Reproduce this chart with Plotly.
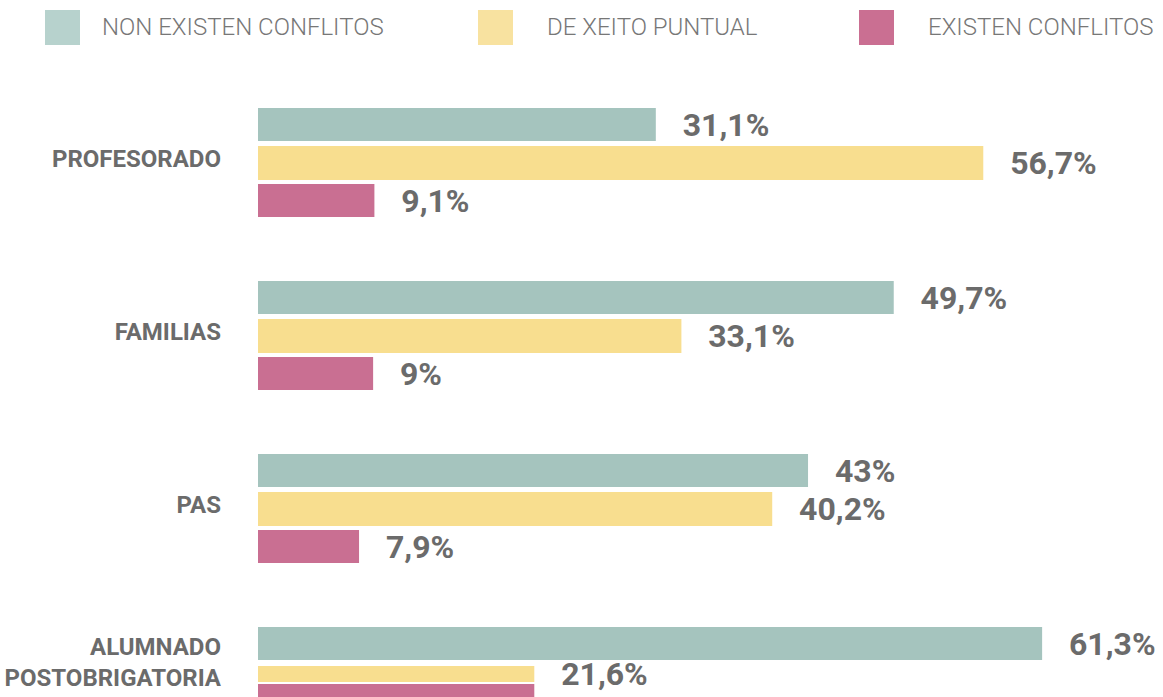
import plotly.graph_objects as go

categories = ["PROFESORADO", "FAMILIAS", "PAS", "ALUMNADO<br>POSTOBRIGATORIA<br> "]
series_names = ["NON EXISTEN CONFLITOS", "DE XEITO PUNTUAL", "EXISTEN CONFLITOS"]
non_existen = [31.1, 49.7, 43.0, 61.3]
de_xeito = [56.7, 33.1, 40.2, 21.6]
existen = [9.1, 9.0, 7.9, 21.6]

bar_colors = ["#a5c4be", "#f8de8f", "#c96f92"]
legend_colors = ["#b7d2cd", "#f8e2a0", "#ca6f92"]
label_color = "#6b6b6b"

W, H = 1163, 697
ML, MR, MT, MB = 258, 0, 80, 0
PW, PH = W - ML - MR, H - MT - MB


def fmt(v):
    return "\u00a0\u00a0\u00a0" + f"{v:g}".replace(".", ",") + "%"


# bar geometry (category units) : offset / width per trace
geo = [
    dict(offset=[-0.2919] * 4, width=[0.191] * 4),
    dict(offset=[-0.0723, -0.0723, -0.0723, -0.0665], width=[0.1965, 0.1965, 0.1965, 0.0925]),
    dict(offset=[0.1474, 0.1474, 0.1474, 0.0376], width=[0.191] * 4),
]

fig = go.Figure()
all_series = [non_existen, de_xeito, existen]
for i, vals in enumerate(all_series):
    labels = [fmt(v) for v in vals]
    if i == 2:
        labels = labels[:-1] + [""]
    fig.add_trace(go.Bar(
        y=categories, x=vals, orientation="h", name=series_names[i],
        marker=dict(color=bar_colors[i], line=dict(width=0)),
        offset=geo[i]["offset"], width=geo[i]["width"],
        text=labels, textposition="outside", cliponaxis=False,
        constraintext="none",
        textfont=dict(family="Roboto", size=32, color=label_color, weight="bold"),
        showlegend=False, hoverinfo="skip",
    ))

fig.update_layout(
    width=W, height=H, barmode="overlay",
    margin=dict(l=ML, r=MR, t=MT, b=MB, pad=0, autoexpand=False),
    paper_bgcolor="white", plot_bgcolor="white",
    font=dict(family="Roboto", color=label_color),
    xaxis=dict(range=[0, 70.75], visible=False, fixedrange=True, automargin=False),
    yaxis=dict(range=[3.1127, -0.4538], showgrid=False, zeroline=False, automargin=False,
               showline=False, ticks="", ticklabelstandoff=36,
               tickfont=dict(family="Roboto", size=24, color=label_color, weight="bold")),
)


def px_x(px):
    return (px - ML) / PW


def px_y(py):
    return (H - MB - py) / PH


legend_x = [45, 478, 859]
legend_text_x = [100, 545, 926]
for i, name in enumerate(series_names):
    fig.add_shape(type="rect", xref="paper", yref="paper",
                  x0=px_x(legend_x[i]), x1=px_x(legend_x[i] + 35),
                  y0=px_y(45), y1=px_y(10),
                  fillcolor=legend_colors[i], line=dict(width=0))
    fig.add_annotation(xref="paper", yref="paper", x=px_x(legend_text_x[i]), y=px_y(27),
                       xanchor="left", yanchor="middle", text=name, showarrow=False,
                       font=dict(family="Roboto", size=24, color="#777777", weight=300))

fig.write_html("out.html")
